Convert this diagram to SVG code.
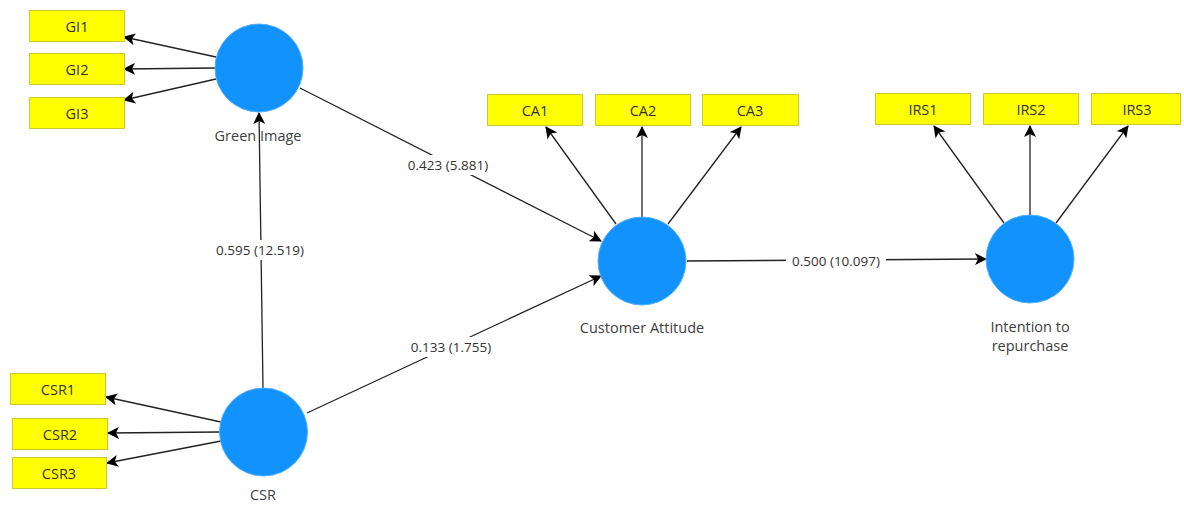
<svg xmlns="http://www.w3.org/2000/svg" width="1184" height="505" viewBox="0 0 1184 505">
  <defs>
    <marker id="arrow" markerUnits="userSpaceOnUse" markerWidth="12" markerHeight="12" viewBox="0 0 12 12" refX="11" refY="6" orient="auto">
      <path d="M0,0 L12,6 L0,12 L3,6 Z" fill="#000"/>
    </marker>
    <style>
      .ind rect { fill: #ffff00; stroke: #c9c936; stroke-width: 1; }
      .ind text { font-family: "Open Sans", "Noto Sans", sans-serif; font-size: 14.5px; fill: #333; text-anchor: middle; }
      .lv circle { fill: #1192fd; stroke: #52aefc; stroke-width: 1; }
      .lv text { font-family: "Open Sans", "Noto Sans", sans-serif; font-size: 14.5px; fill: #404040; text-anchor: middle; }
      .edge { stroke: #222; stroke-width: 1.3; fill: none; }
      .lbl rect { fill: #fff; }
      .lbl text { font-family: "Open Sans", "Noto Sans", sans-serif; font-size: 13.5px; fill: #333; text-anchor: middle; }
    </style>
  </defs>
  <rect width="1184" height="505" fill="#fff"/>

  <!-- connectors: outer loadings and structural paths -->
  <g id="connectors">
    <line class="edge" x1="216" y1="57" x2="124" y2="37" marker-end="url(#arrow)"/>
    <line class="edge" x1="215" y1="68" x2="124" y2="69" marker-end="url(#arrow)"/>
    <line class="edge" x1="216" y1="79" x2="124" y2="100" marker-end="url(#arrow)"/>

    <line class="edge" x1="221" y1="422" x2="106" y2="397" marker-end="url(#arrow)"/>
    <line class="edge" x1="220" y1="432" x2="108" y2="433" marker-end="url(#arrow)"/>
    <line class="edge" x1="221" y1="441" x2="107" y2="463" marker-end="url(#arrow)"/>

    <line class="edge" x1="616" y1="224" x2="546" y2="127" marker-end="url(#arrow)"/>
    <line class="edge" x1="642" y1="217" x2="642" y2="127" marker-end="url(#arrow)"/>
    <line class="edge" x1="668" y1="224" x2="741" y2="127" marker-end="url(#arrow)"/>

    <line class="edge" x1="1004" y1="223" x2="934" y2="126" marker-end="url(#arrow)"/>
    <line class="edge" x1="1030" y1="215" x2="1030" y2="126" marker-end="url(#arrow)"/>
    <line class="edge" x1="1056" y1="223" x2="1128" y2="126" marker-end="url(#arrow)"/>

    <line class="edge" x1="263" y1="388" x2="259" y2="113" marker-end="url(#arrow)"/>
    <line class="edge" x1="300" y1="88" x2="601" y2="241" marker-end="url(#arrow)"/>
    <line class="edge" x1="307" y1="413" x2="601" y2="276" marker-end="url(#arrow)"/>
    <line class="edge" x1="687" y1="261" x2="986" y2="259" marker-end="url(#arrow)"/>

    <g class="lbl">
      <rect x="211" y="240" width="98" height="20"/>
      <text x="260" y="255">0.595 (12.519)</text>
      <rect x="404" y="155" width="88" height="20"/>
      <text x="448" y="170">0.423 (5.881)</text>
      <rect x="406" y="337" width="90" height="20"/>
      <text x="451" y="352">0.133 (1.755)</text>
      <rect x="786" y="251" width="100" height="20"/>
      <text x="836" y="266">0.500 (10.097)</text>
    </g>
  </g>

  <!-- indicator boxes -->
  <g id="GI1" class="ind"><rect x="29.5" y="10.5" width="95" height="31"/><text x="77" y="32">GI1</text></g>
  <g id="GI2" class="ind"><rect x="29.5" y="53.5" width="95" height="31"/><text x="77" y="75">GI2</text></g>
  <g id="GI3" class="ind"><rect x="29.5" y="97.5" width="95" height="31"/><text x="77" y="119">GI3</text></g>

  <g id="CSR1" class="ind"><rect x="10.5" y="373.5" width="95" height="31"/><text x="58" y="395">CSR1</text></g>
  <g id="CSR2" class="ind"><rect x="12.5" y="418.5" width="95" height="31"/><text x="60" y="440">CSR2</text></g>
  <g id="CSR3" class="ind"><rect x="12.5" y="457.5" width="94" height="31"/><text x="59" y="479">CSR3</text></g>

  <g id="CA1" class="ind"><rect x="487.5" y="94.5" width="95" height="31"/><text x="535" y="116">CA1</text></g>
  <g id="CA2" class="ind"><rect x="595.5" y="94.5" width="95" height="31"/><text x="643" y="116">CA2</text></g>
  <g id="CA3" class="ind"><rect x="702.5" y="94.5" width="96" height="31"/><text x="750" y="116">CA3</text></g>

  <g id="IRS1" class="ind"><rect x="875.5" y="93.5" width="95" height="31"/><text x="923" y="115">IRS1</text></g>
  <g id="IRS2" class="ind"><rect x="983.5" y="93.5" width="95" height="31"/><text x="1031" y="115">IRS2</text></g>
  <g id="IRS3" class="ind"><rect x="1091.5" y="93.5" width="89" height="31"/><text x="1137" y="115">IRS3</text></g>

  <!-- latent variables -->
  <g id="green-image" class="lv"><circle cx="259" cy="68" r="44"/><text x="258" y="141">Green Image</text></g>
  <g id="csr" class="lv"><circle cx="263.5" cy="432" r="44"/><text x="263" y="500">CSR</text></g>
  <g id="customer-attitude" class="lv"><circle cx="642" cy="261" r="44"/><text x="642" y="333">Customer Attitude</text></g>
  <g id="intention" class="lv"><circle cx="1030" cy="259" r="44"/><text x="1030" y="332">Intention to</text><text x="1030" y="351">repurchase</text></g>
</svg>
